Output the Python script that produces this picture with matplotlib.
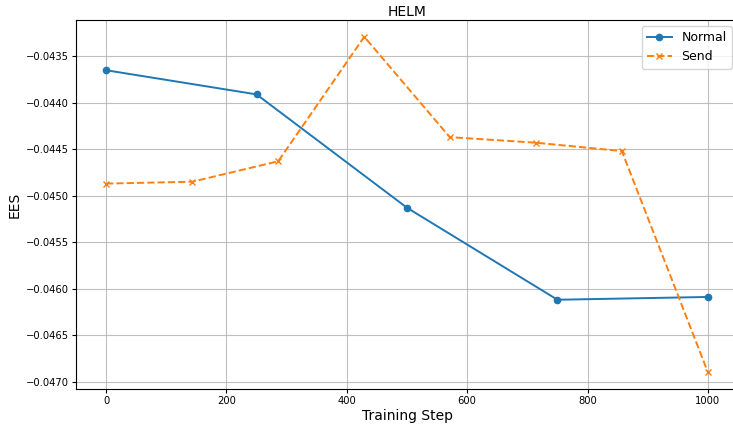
import matplotlib
matplotlib.use("Agg")
import matplotlib.pyplot as plt

# ---- data ----
normal_steps = [0, 250, 500, 750, 1000]
normal_ees = [-0.04365, -0.04391, -0.04513, -0.04612, -0.04609]

send_steps = [0, 143, 286, 429, 571, 714, 857, 1000]
send_ees = [-0.04487, -0.04485, -0.04463, -0.04329, -0.04437, -0.04443, -0.04452, -0.04690]

fig = plt.figure(figsize=(7.33, 4.28), dpi=100)
# right edge of the axes falls just past the image, as in the reference
ax = fig.add_axes([76 / 733, 1 - 389 / 428, 662 / 733, 369 / 428])

ax.plot(normal_steps, normal_ees, marker="o", linestyle="-", color="#1f77b4",
        linewidth=1.4, markersize=4.5, label="Normal")
ax.plot(send_steps, send_ees, marker="x", linestyle="--", color="#ff7f0e",
        linewidth=1.4, markersize=4.5, label="Send")

ax.set_title("HELM", fontsize=10, pad=3)
ax.set_xlabel("Training Step", fontsize=10, labelpad=2)
ax.set_ylabel("EES", fontsize=10, labelpad=3)
ax.tick_params(labelsize=7.2, length=3, pad=2)
ax.grid(True, color="#b0b0b0", linewidth=0.8, alpha=0.8)
ax.legend(loc="upper right", fontsize=9)

fig.savefig("out.png", dpi=100)
